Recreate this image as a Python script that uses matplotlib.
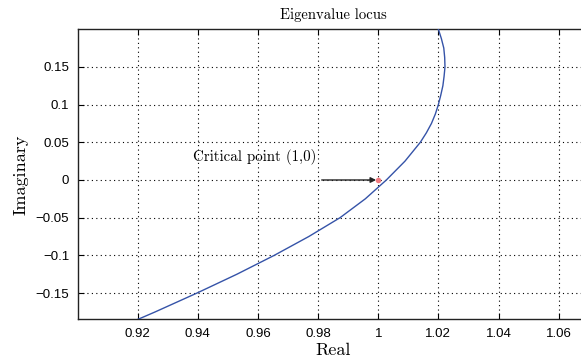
import matplotlib.pyplot as plt
from matplotlib.ticker import FixedLocator, FuncFormatter

# eigenvalue locus
re_vals = [0.9200, 0.9258, 0.9397, 0.9530, 0.9654, 0.9769, 0.9873, 0.9957,
           1.0027, 1.0089, 1.0140, 1.0160, 1.0177, 1.0190, 1.0200, 1.0208,
           1.0215, 1.0219, 1.0222, 1.0221, 1.0218, 1.0210, 1.0200]
im_vals = [-0.185, -0.175, -0.150, -0.125, -0.100, -0.075, -0.050, -0.025,
           0.000, 0.025, 0.050, 0.0625, 0.075, 0.0875, 0.100, 0.1125,
           0.125, 0.1375, 0.150, 0.1625, 0.175, 0.1875, 0.200]

crit_re = [1.0]
crit_im = [0.0]

xticks = [0.92, 0.94, 0.96, 0.98, 1.0, 1.02, 1.04, 1.06]
yticks = [-0.15, -0.1, -0.05, 0, 0.05, 0.1, 0.15]

serif = "cmr10"

fig = plt.figure(figsize=(5.81, 3.64), dpi=100)
ax = fig.add_axes([0.1334, 0.1223, 0.8799, 0.7975])

ax.plot(re_vals, im_vals, color="#3553a8", lw=1.0, zorder=3)
ax.plot(crit_re, crit_im, "o", color="#f07a80", ms=4, mec="none", zorder=4)

ax.annotate("", xy=(0.9993, 0.0), xytext=(0.9812, 0.0),
            arrowprops=dict(arrowstyle="-|>", color="#222222", lw=1.0,
                            mutation_scale=8, shrinkA=0, shrinkB=0))
ax.text(0.9385, 0.0305, "Critical point (1,0)", family=serif, fontsize=10.8,
        ha="left", va="center")

ax.set_xlim(0.9, 1.07)
ax.set_ylim(-0.185, 0.2)

ax.xaxis.set_major_locator(FixedLocator(xticks))
ax.yaxis.set_major_locator(FixedLocator(yticks))
fmt = FuncFormatter(lambda v, p: ("%g" % round(v, 4)).replace("-", "\u2212"))
ax.xaxis.set_major_formatter(fmt)
ax.yaxis.set_major_formatter(fmt)

ax.tick_params(direction="in", top=True, right=True, length=4, width=0.8,
               labelsize=9.5, pad=6)
for lab in ax.get_xticklabels() + ax.get_yticklabels():
    lab.set_family("Liberation Sans")

ax.grid(True, linestyle=(0, (1, 3)), color="black", lw=0.8)
for s in ax.spines.values():
    s.set_linewidth(1.0)
    s.set_color("#222222")

ax.set_title("Eigenvalue locus", family=serif, fontsize=10.6, pad=7)
ax.set_xlabel("Real", family=serif, fontsize=13, labelpad=2)
ax.set_ylabel("Imaginary", family=serif, fontsize=13, labelpad=5)

fig.savefig("out.png", dpi=100)
